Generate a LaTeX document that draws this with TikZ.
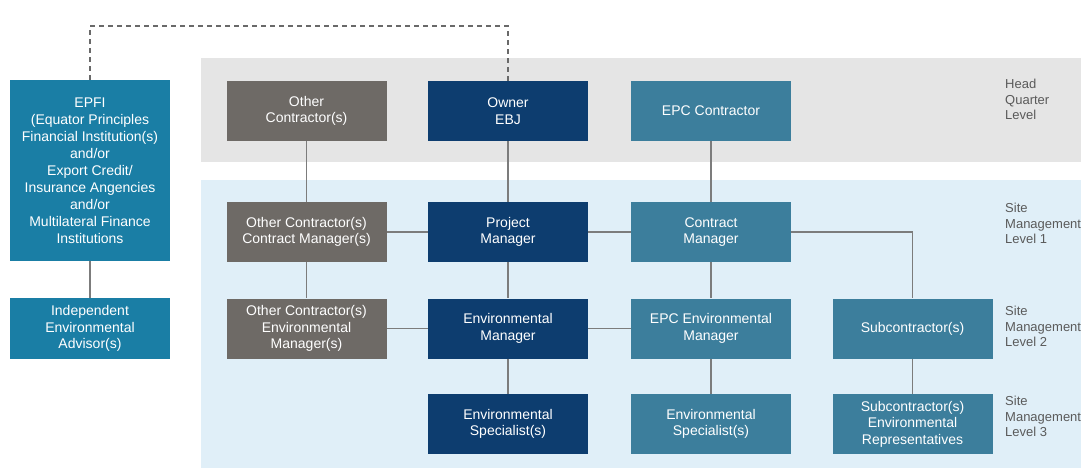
\documentclass[tikz,border=0pt]{standalone}
\usepackage{fontspec}
\setmainfont{Liberation Sans}
\definecolor{greybox}{HTML}{6E6A66}
\definecolor{navybox}{HTML}{0D3D6F}
\definecolor{tealbox}{HTML}{3C7E9C}
\definecolor{epfibox}{HTML}{1A7EA5}
\definecolor{hqband}{HTML}{E5E5E5}
\definecolor{siteband}{HTML}{E0EFF8}
\definecolor{linkgrey}{HTML}{7C7C7C}
\definecolor{labelgrey}{HTML}{5A5A5A}
\tikzset{
  box/.style={rectangle, minimum width=160pt, minimum height=60pt, inner sep=2pt,
    text=white, align=center, font=\fontsize{14}{16.5}\selectfont},
  greyb/.style={box, fill=greybox},
  navyb/.style={box, fill=navybox},
  tealb/.style={box, fill=tealbox},
  epfib/.style={box, fill=epfibox},
  link/.style={draw=linkgrey, line width=1.3pt},
  dashlink/.style={draw=linkgrey!85!black, line width=1.3pt, dash pattern=on 5pt off 4pt},
  levellabel/.style={anchor=north west, align=left, inner sep=0pt, text=labelgrey,
    font=\fontsize{13}{15.5}\selectfont}
}
\begin{document}
\begin{tikzpicture}[x=1pt,y=-1pt]
\useasboundingbox (0,0) rectangle (1081,470);
% bands
\fill[hqband] (201,58) rectangle (1081,162);
\fill[siteband] (201,180) rectangle (1081,468);
% left column
\node[epfib, minimum height=181pt, font=\fontsize{14}{17}\selectfont] (epfi) at (90,170.5)
  {EPFI\\(Equator Principles\\Financial Institution(s)\\and/or\\Export Credit/\\Insurance Angencies\\and/or\\Multilateral Finance\\Institutions};
\node[epfib, minimum height=61pt] (iea) at (90,328.5) {Independent\\Environmental\\Advisor(s)};
% HQ row
\node[greyb] (oc) at (306.5,111) {Other\\Contractor(s)};
\node[navyb] (owner) at (508,111) {Owner\\EBJ};
\node[tealb] (epc) at (711,111) {EPC Contractor};
% Site level 1
\node[greyb] (occm) at (306.5,232) {Other Contractor(s)\\Contract Manager(s)};
\node[navyb] (pm) at (508,232) {Project\\Manager};
\node[tealb] (cm) at (711,232) {Contract\\Manager};
% Site level 2
\node[greyb] (ocem) at (306.5,328.5) {Other Contractor(s)\\Environmental\\Manager(s)};
\node[navyb] (em) at (508,328.5) {Environmental\\Manager};
\node[tealb] (epcem) at (711,328.5) {EPC Environmental\\Manager};
\node[tealb] (sub) at (912.5,328.5) {Subcontractor(s)};
% Site level 3
\node[navyb] (es) at (508,424) {Environmental\\Specialist(s)};
\node[tealb] (es2) at (711,424) {Environmental\\Specialist(s)};
\node[tealb] (subenv) at (912.5,424) {Subcontractor(s)\\Environmental\\Representatives};
% connectors
\coordinate (dA) at (90,26);
\coordinate (dB) at (508,26);
\draw[dashlink] (epfi.north) -- (dA) -- (dB) -- (owner.north);
\draw[link] (epfi) -- (iea);
\draw[link] (oc) -- (occm);
\draw[link] (owner) -- (pm);
\draw[link] (epc) -- (cm);
\draw[link] (occm) -- (pm);
\draw[link] (pm) -- (cm);
\draw[link] (cm.east) -| (sub.north);
\draw[link] (occm) -- (ocem);
\draw[link] (pm) -- (em);
\draw[link] (cm) -- (epcem);
\draw[link] (ocem) -- (em);
\draw[link] (em) -- (epcem);
\draw[link] (em) -- (es);
\draw[link] (epcem) -- (es2);
\draw[link] (sub) -- (subenv);
% level labels
\node[levellabel] (hq) at (1005,79) {Head\\Quarter\\Level};
\node[levellabel] (l1) at (1005,203) {Site\\Management\\Level 1};
\node[levellabel] (l2) at (1005,306) {Site\\Management\\Level 2};
\node[levellabel] (l3) at (1005,396) {Site\\Management\\Level 3};
\end{tikzpicture}
\end{document}
